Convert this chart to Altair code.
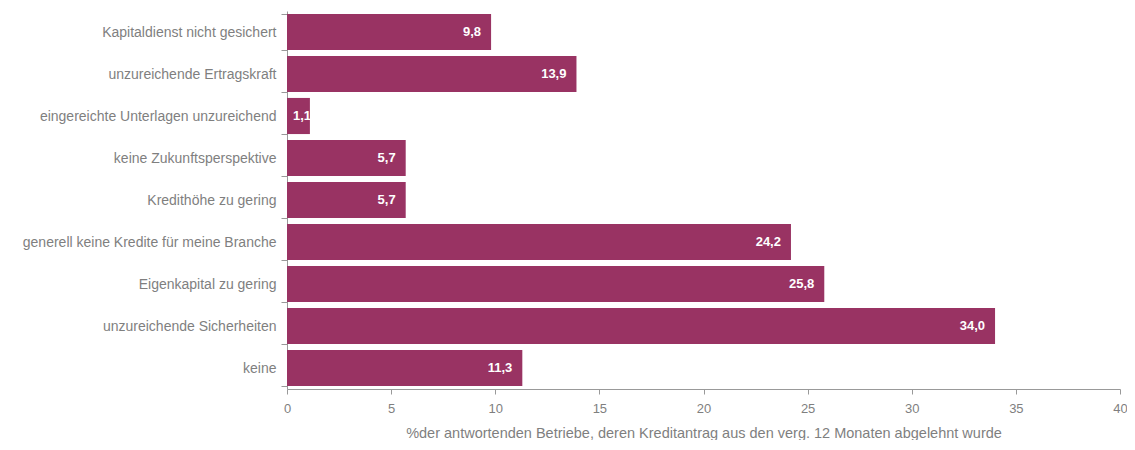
import altair as alt
import pandas as pd

categories = [
    "Kapitaldienst nicht gesichert",
    "unzureichende Ertragskraft",
    "eingereichte Unterlagen unzureichend",
    "keine Zukunftsperspektive",
    "Kredithöhe zu gering",
    "generell keine Kredite für meine Branche",
    "Eigenkapital zu gering",
    "unzureichende Sicherheiten",
    "keine",
]
values = [9.8, 13.9, 1.1, 5.7, 5.7, 24.2, 25.8, 34.0, 11.3]
x_ticks = [0, 5, 10, 15, 20, 25, 30, 35, 40]
x_title = "%der antwortenden Betriebe, deren Kreditantrag aus den verg. 12 Monaten abgelehnt wurde"

df = pd.DataFrame({"cat": categories, "v": values})

FONT = "Liberation Sans"
GREY = "#7f7f7f"
BAR = "#993363"

base = alt.Chart(df).transform_calculate(
    label="replace(format(datum.v, '.1f'), '.', ',')"
)

y_enc = alt.Y(
    "cat:N",
    sort=categories,
    scale=alt.Scale(paddingInner=0.14, paddingOuter=0.07),
    axis=alt.Axis(
        title=None,
        labelFont=FONT,
        labelFontSize=14,
        labelColor=GREY,
        labelPadding=5,
        tickSize=6,
        tickColor="#999999",
        domainColor="#999999",
        tickBand="extent",
        labelLimit=400,
        grid=False,
    ),
)

bars = base.mark_bar(color=BAR).encode(
    x=alt.X(
        "v:Q",
        scale=alt.Scale(domain=[0, 40], nice=False),
        axis=alt.Axis(
            values=x_ticks,
            grid=False,
            title=x_title,
            titleFont=FONT,
            titleFontSize=14.5,
            titleFontWeight="normal",
            titleColor=GREY,
            titlePadding=11,
            labelFont=FONT,
            labelFontSize=13,
            labelColor=GREY,
            labelPadding=8,
            labelFlush=False,
            tickSize=5,
            tickColor="#999999",
            domainColor="#999999",
        ),
    ),
    y=y_enc,
)

text_style = dict(
    baseline="middle",
    color="white",
    font=FONT,
    fontSize=13,
    fontWeight="bold",
)

texts_end = base.transform_filter("datum.v >= 3").mark_text(
    align="right", dx=-10, **text_style
).encode(
    x="v:Q",
    y=alt.Y("cat:N", sort=categories),
    text="label:N",
)

texts_start = base.transform_filter("datum.v < 3").transform_calculate(
    x0="0"
).mark_text(
    align="left", dx=6, **text_style
).encode(
    x="x0:Q",
    y=alt.Y("cat:N", sort=categories),
    text="label:N",
)

chart = (
    alt.layer(bars, texts_end, texts_start)
    .properties(
        width=833,
        height=378,
        autosize=alt.AutoSizeParams(type="none"),
        padding={"left": 279, "top": 3, "right": 7, "bottom": 51},
        view=alt.ViewBackground(stroke="transparent", strokeWidth=0),
    )
    .configure_view(stroke="transparent", strokeWidth=0)
    .configure(background="white")
)

chart.save("out.html", embed_options={"renderer": "svg", "actions": False})
